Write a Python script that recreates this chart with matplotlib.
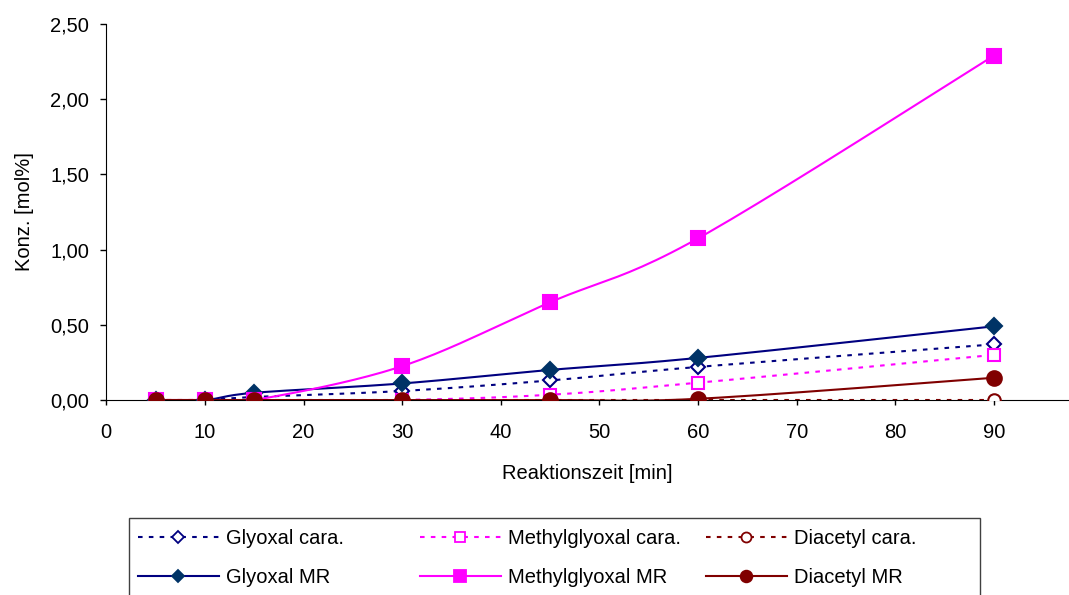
import numpy as np
import matplotlib.pyplot as plt
import matplotlib.patches as mpatches
from matplotlib.lines import Line2D
from matplotlib.ticker import FuncFormatter

plt.rcParams['font.family'] = ['Liberation Sans', 'DejaVu Sans']
plt.rcParams['font.size'] = 14.5

zeit = [5, 10, 15, 30, 45, 60, 90]
glyoxal_cara = [0, 0, 0.02, 0.06, 0.13, 0.22, 0.37]
methylglyoxal_cara = [0, 0, 0, 0, 0.035, 0.115, 0.30]
diacetyl_cara = [0, 0, 0, 0, 0, 0, 0]
glyoxal_mr = [0, 0, 0.048, 0.11, 0.20, 0.28, 0.49]
methylglyoxal_mr = [0, 0, 0, 0.225, 0.65, 1.075, 2.29]
diacetyl_mr = [0, 0, 0, 0, 0, 0.008, 0.148]


def smooth(x, y, n=24):
    # bezier smoothing like excel's "smoothed line"
    x = np.asarray(x, float)
    y = np.asarray(y, float)
    px = np.concatenate([[x[0]], x, [x[-1]]])
    py = np.concatenate([[y[0]], y, [y[-1]]])
    t = np.linspace(0, 1, n)
    xs, ys = [], []
    for i in range(len(x) - 1):
        p0 = np.array([px[i + 1], py[i + 1]])
        p3 = np.array([px[i + 2], py[i + 2]])
        p1 = p0 + (np.array([px[i + 2], py[i + 2]]) - np.array([px[i], py[i]])) / 6
        p2 = p3 - (np.array([px[i + 3], py[i + 3]]) - np.array([px[i + 1], py[i + 1]])) / 6
        pts = ((1 - t) ** 3)[:, None] * p0 + (3 * (1 - t) ** 2 * t)[:, None] * p1 \
            + (3 * (1 - t) * t ** 2)[:, None] * p2 + (t ** 3)[:, None] * p3
        xs.extend(pts[:, 0])
        ys.extend(pts[:, 1])
    return xs, ys


navy = '#000080'
dunkelblau = '#003366'
magenta = '#FF00FF'
braun = '#800000'
dots = (0, (2.2, 3.0))

serien = [
    ('Glyoxal cara.', glyoxal_cara, navy, dots, 'D', 'white', navy, 7.5),
    ('Methylglyoxal cara.', methylglyoxal_cara, magenta, dots, 's', 'white', magenta, 9),
    ('Diacetyl cara.', diacetyl_cara, braun, dots, 'o', 'white', braun, 9),
    ('Glyoxal MR', glyoxal_mr, navy, '-', 'D', dunkelblau, dunkelblau, 8),
    ('Methylglyoxal MR', methylglyoxal_mr, magenta, '-', 's', magenta, magenta, 10),
    ('Diacetyl MR', diacetyl_mr, braun, '-', 'o', braun, braun, 10.5),
]

W, H = 1069, 595
fig = plt.figure(figsize=(W / 100, H / 100), dpi=100)
ax = fig.add_axes([106.3 / W, 1 - 400 / H, 1 - 106.3 / W, 376 / H])

handles = {}
for name, werte, farbe, ls, mk, fc, ec, ms in serien:
    sx, sy = smooth(zeit, werte)
    ax.plot(sx, sy, color=farbe, linestyle=ls, linewidth=1.5, zorder=2)
    ax.plot(zeit, werte, linestyle='none', marker=mk, markersize=ms,
            markerfacecolor=fc, markeredgecolor=ec, markeredgewidth=1.5, zorder=3)
    handles[name] = Line2D([], [], color=farbe, linestyle=ls, linewidth=1.5, marker=mk,
                           markersize=ms * 0.8, markerfacecolor=fc, markeredgecolor=ec,
                           markeredgewidth=1.3)

ax.set_xlim(0, 97.6)
ax.set_ylim(0, 2.5)
ax.set_xticks(range(0, 100, 10))
ax.set_yticks(np.arange(0, 2.51, 0.5))
ax.yaxis.set_major_formatter(FuncFormatter(lambda v, p: f'{v:.2f}'.replace('.', ',')))
ax.spines['top'].set_visible(False)
ax.spines['right'].set_visible(False)
ax.tick_params(axis='x', direction='out', length=3.6, width=1, pad=12.9)
ax.tick_params(axis='y', direction='out', length=4.3, width=1, pad=8)
ax.set_xlabel('Reaktionszeit [min]', labelpad=16.2)
ax.set_ylabel('Konz. [mol%]', labelpad=12)

# legend: frame plus three fixed-width columns like excel
fig.add_artist(mpatches.Rectangle((129 / W, -0.05), (980 - 129) / W, 0.05 + 1 - 518 / H,
                                  transform=fig.transFigure, facecolor='white',
                                  edgecolor='#404040', linewidth=1))
spalten = [('Glyoxal cara.', 'Glyoxal MR'),
           ('Methylglyoxal cara.', 'Methylglyoxal MR'),
           ('Diacetyl cara.', 'Diacetyl MR')]
for x0, (a, b) in zip([138, 420, 706], spalten):
    lg = fig.legend([handles[a], handles[b]], [a, b], loc='upper left',
                    bbox_to_anchor=(x0 / W, 1 - 529 / H), frameon=False,
                    borderpad=0, borderaxespad=0, handlelength=4.0,
                    handletextpad=0.35, labelspacing=1.0)

fig.savefig('out.png', dpi=100)
